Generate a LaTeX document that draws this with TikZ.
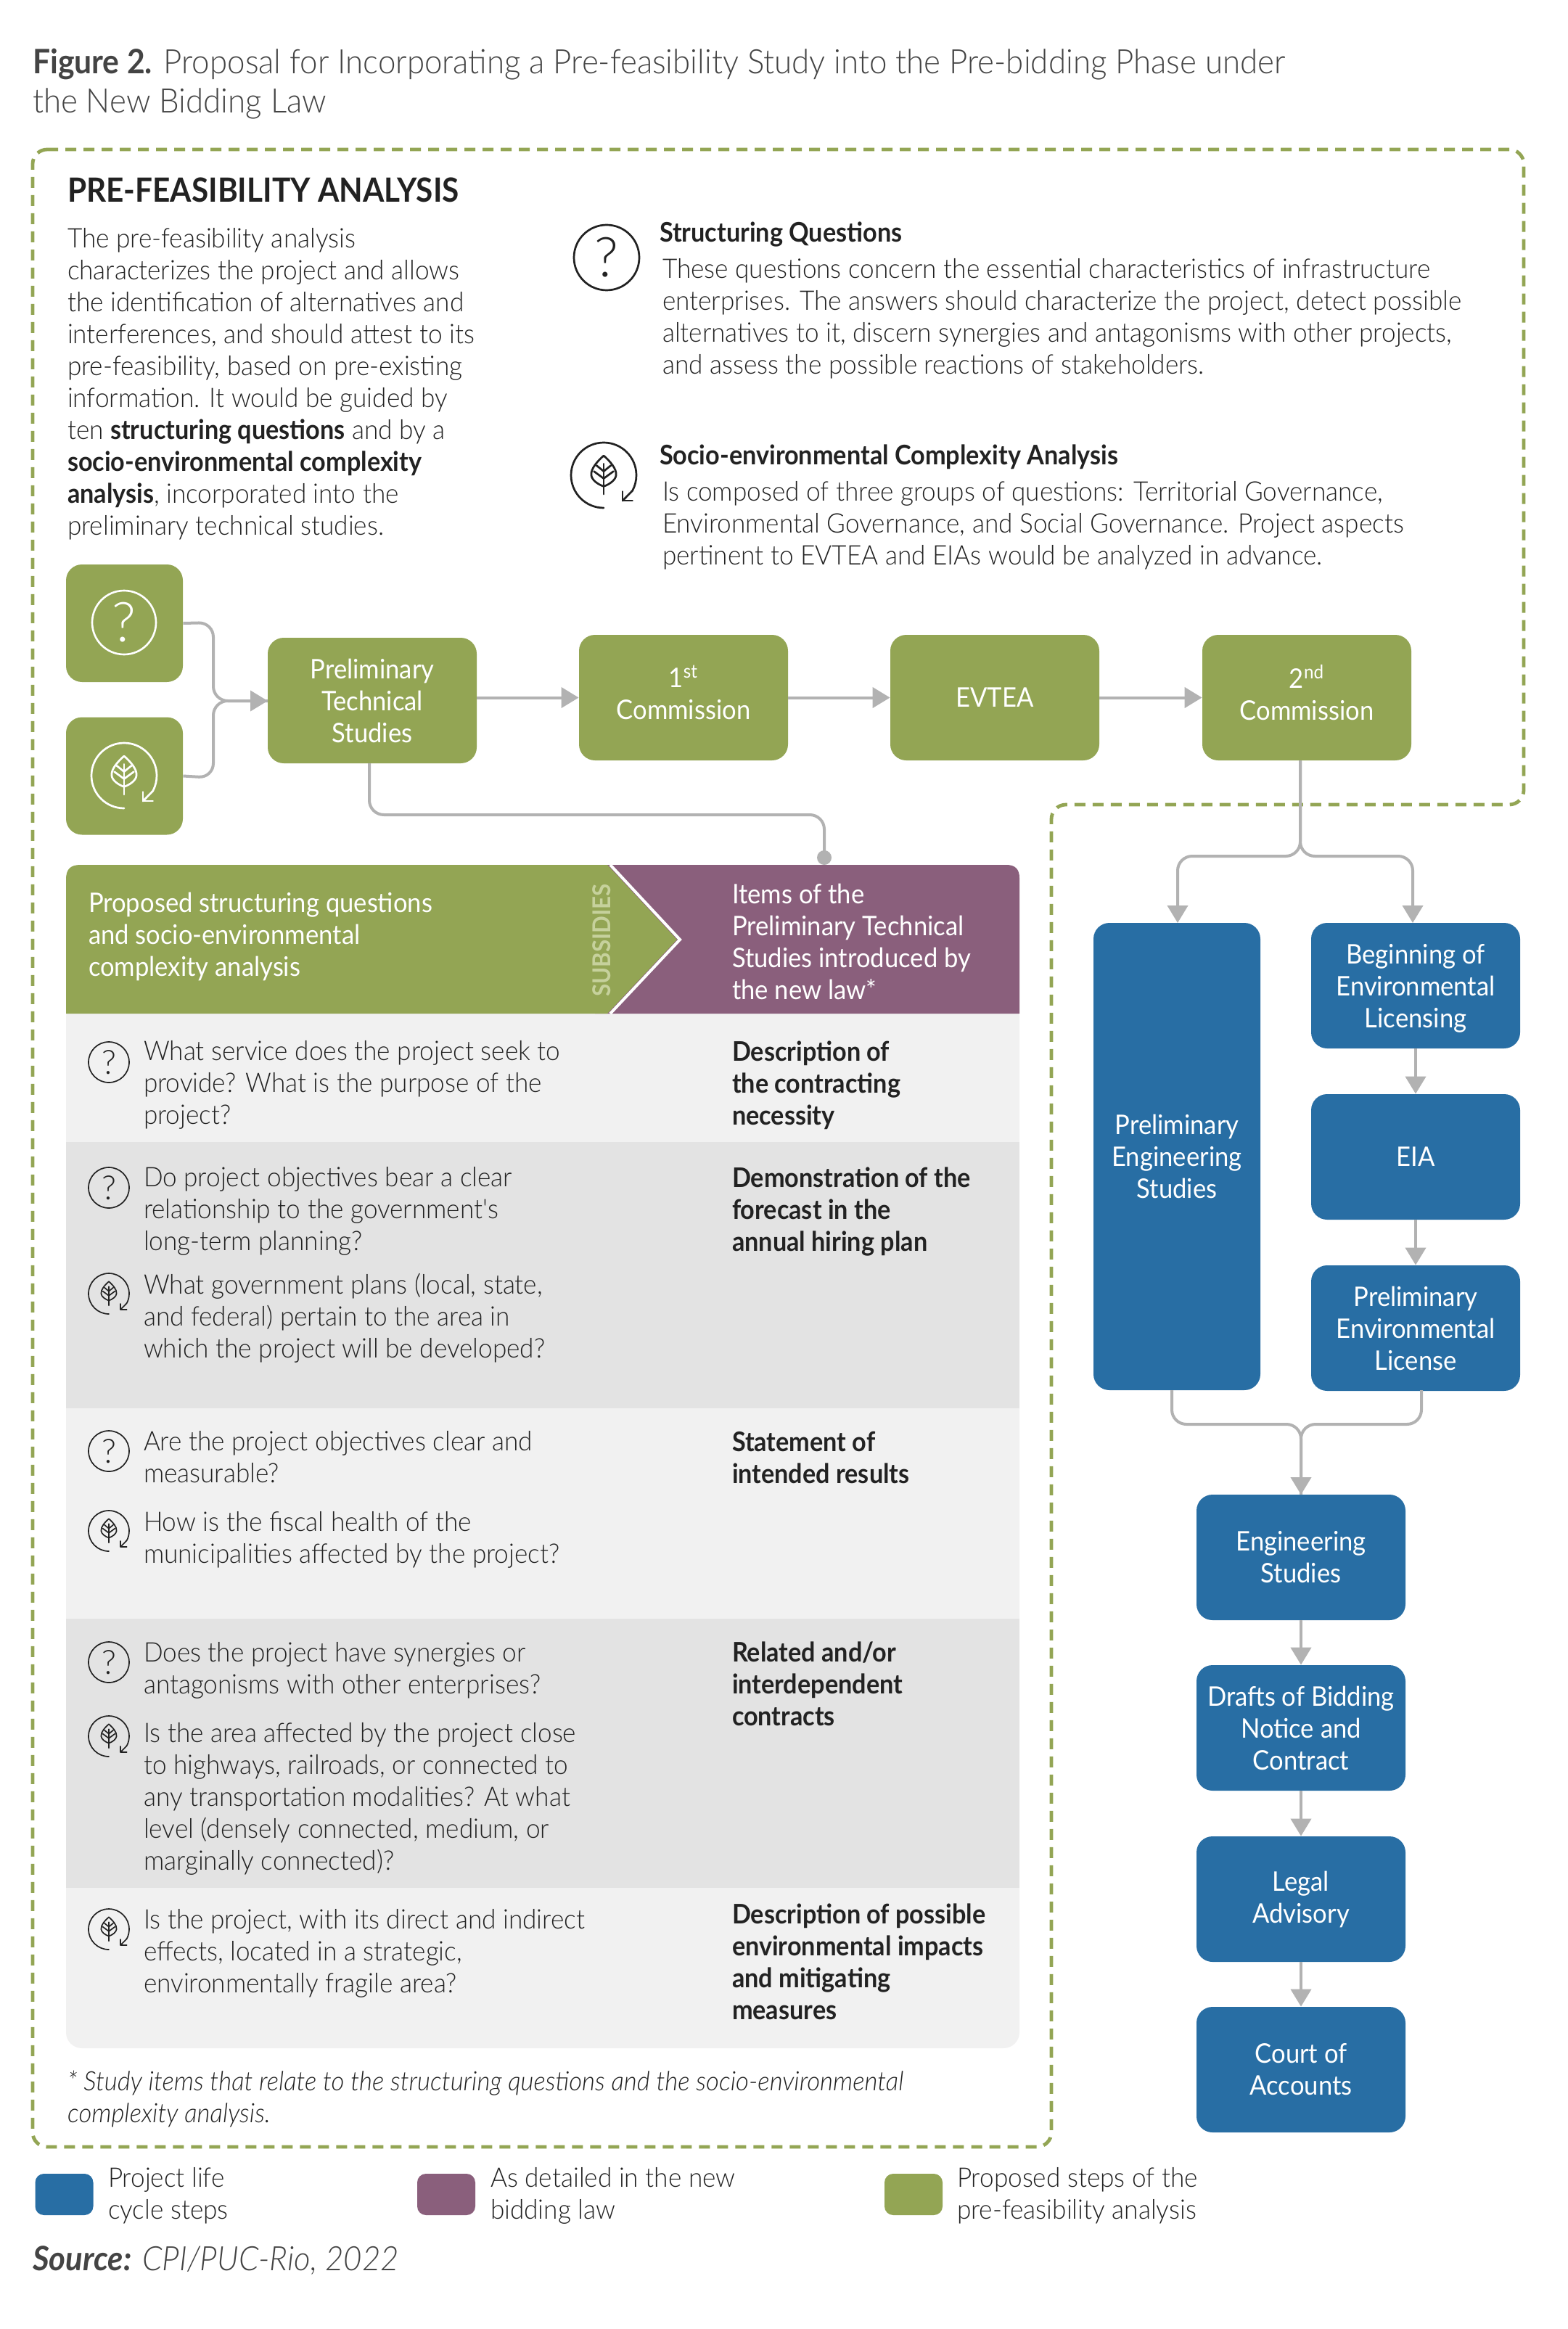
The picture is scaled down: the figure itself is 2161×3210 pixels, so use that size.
\documentclass[tikz,border=0pt]{standalone}
\usepackage{fontspec}
\setmainfont{Lato Light}[BoldFont={Lato Bold},BoldFeatures={FakeStretch=0.92},ItalicFont={Lato Light Italic},BoldItalicFont={Lato Bold Italic},FakeStretch=0.945]
\newfontfamily\qfont{Lato Light}
\newfontfamily\plainfam{Lato Light}[FakeStretch=0.945]
\newfontfamily\wfont{Lato}[FakeStretch=0.93]
\newcommand\up[1]{\rule[-#1pt]{0pt}{#1pt}}
\usetikzlibrary{arrows.meta,shapes.geometric}
\definecolor{pgreen}{HTML}{93A554}
\definecolor{ppurple}{HTML}{8A5F7C}
\definecolor{pblue}{HTML}{286EA4}
\definecolor{pgray}{HTML}{B2B2B2}
\definecolor{rowa}{HTML}{F1F1F1}
\definecolor{rowb}{HTML}{E3E3E3}
\definecolor{ink}{HTML}{222222}
\definecolor{titleink}{HTML}{444444}
\definecolor{subsid}{HTML}{C6D19C}
\newcommand\bodyfont{\fontsize{18.6}{22}\selectfont}
\newcommand\whitefont{\wfont\fontsize{18.6}{22}\selectfont}
\newcommand\qicon[6]{\node[circle,draw=#5,line width=#4*0.03pt,inner sep=0pt,minimum size=#4*1pt,text=#5,font=\qfont\fontsize{#6}{#6}\selectfont] (#1) at (#2,#3) {?};}
\newcommand\leaficon[4]{%
\begin{scope}[shift={(#1,#2)},x=#3*0.5pt,y=#3*0.5pt,draw=#4,line width=#3*0.03pt,line cap=round,line join=round]
\draw (0,-1) arc[start angle=270,end angle=-28,x radius=1,y radius=1] -- (.58,-.78);
\draw (.58,-.5) -- (.58,-.78) -- (.88,-.78);
\draw (0,.6) .. controls (.2,.42) and (.4,.2) .. (.38,0) .. controls (.36,-.15) and (.18,-.28) .. (0,-.34) .. controls (-.18,-.28) and (-.36,-.15) .. (-.38,0) .. controls (-.4,.2) and (-.2,.42) .. cycle;
\draw (0,.35) -- (0,-.58);
\draw (0,.12) -- (.22,.3) (0,.12) -- (-.22,.3) (0,-.1) -- (.3,.12) (0,-.1) -- (-.3,.12);
\end{scope}}
\tikzset{
 txt/.style={anchor=north west,inner sep=0pt,outer sep=0pt,align=left,yshift=14pt,text=ink,font=\bodyfont,execute at begin node={\rule{0pt}{14pt}}},
 flow/.style={rounded corners=11pt,inner sep=0pt,text=white,align=center,font=\whitefont,minimum width=144pt,minimum height=86.5pt},
 gbox/.style={flow,fill=pgreen},
 bbox/.style={flow,fill=pblue},
 conn/.style={draw=pgray,line width=2pt,rounded corners=10pt},
 arr/.style={conn,-{Triangle[length=12pt,width=14pt]}},
 legendbox/.style={fill=#1,rounded corners=6pt,minimum width=40pt,minimum height=28.5pt,inner sep=0pt},
}
\begin{document}
\begin{tikzpicture}[x=0.5pt,y=-0.5pt]
\useasboundingbox[fill=white] (0,0) rectangle (2161,3210);
% title
\node[txt,text=titleink,font=\fontsize{23.2}{27}\selectfont] (title) at (45,95) {\textbf{Figure 2.} Proposal for Incorporating a Pre-feasibility Study into the Pre-bidding Phase under\\the New Bidding Law};
% dashed outline
\draw[pgreen,line width=2.4pt,dash pattern=on 7.5pt off 5pt,rounded corners=10pt] (45,206) -- (2100,206) -- (2100,1109) -- (1449,1109) -- (1449,2959) -- (45,2959) -- cycle;
\node[txt,font=\fontsize{23}{27}\selectfont\bfseries] (head) at (93,273) {PRE-FEASIBILITY ANALYSIS};
\node[txt] (intro) at (93,342) {The pre-feasibility analysis\\characterizes the project and allows\\the identification of alternatives and\\interferences, and should attest to its\\pre-feasibility, based on pre-existing\\information. It would be guided by\\ten \textbf{structuring questions} and by a\\\textbf{socio-environmental complexity}\\\textbf{analysis}, incorporated into the\\preliminary technical studies.};
\qicon{qtop}{836}{355}{45}{ink}{38}
\node[txt,font=\bodyfont\bfseries] (sqh) at (909,334) {Structuring Questions};
\node[txt] (sqb) at (913,384) {These questions concern the essential characteristics of infrastructure\\enterprises. The answers should characterize the project, detect possible\\alternatives to it, discern synergies and antagonisms with other projects,\\and assess the possible reactions of stakeholders.};
\leaficon{832}{655}{45}{ink}
\node[txt,font=\bodyfont\bfseries] (seh) at (909,640) {Socio-environmental Complexity Analysis};
\node[txt] (seb) at (913,691) {Is composed of three groups of questions: Territorial Governance,\\Environmental Governance, and Social Governance. Project aspects\\pertinent to EVTEA and EIAs would be analyzed in advance.};
% flow green
\node[gbox,minimum width=80.5pt,minimum height=81pt] (qbox) at (171.5,859) {};
\node[gbox,minimum width=80.5pt,minimum height=81pt] (lbox) at (171.5,1069.5) {};
\qicon{qw}{171}{858}{44}{white}{38}
\leaficon{171}{1069}{45}{white}
\node[gbox] (pts) at (513,965.5) {Preliminary\\Technical\\Studies};
\node[gbox] (c1) at (942,961.5) {1\textsuperscript{st}\\Commission\up{7}};
\node[gbox] (evtea) at (1371,961.5) {EVTEA};
\node[gbox] (c2) at (1801,961.5) {2\textsuperscript{nd}\\Commission\up{7}};
% flow blue
\node[bbox,minimum width=115pt,minimum height=322pt] (pes) at (1622,1594) {Preliminary\\Engineering\\Studies};
\node[bbox] (bel) at (1951,1358.5) {\rule{0pt}{17pt}Beginning of\\Environmental\\Licensing};
\node[bbox] (eia) at (1951,1594.5) {EIA};
\node[bbox] (pel) at (1951,1830.5) {Preliminary\\Environmental\\License};
\node[bbox] (es) at (1793,2146.5) {Engineering\\Studies};
\node[bbox] (dr) at (1793,2381.5) {Drafts of Bidding\\Notice and\\Contract};
\node[bbox] (la) at (1793,2617.5) {Legal\\Advisory};
\node[bbox] (ca) at (1793,2852.5) {Court of\\Accounts};
% connectors
\coordinate (m1) at (294,966);
\coordinate (pin) at (369,966);
\draw[conn] (qbox.east) -- (294,858) -- (m1) -- (pin);
\draw[arr] (lbox.east) -- (294,1072) -- (m1) -- (pin);
\draw[arr] (pts.east |- c1) -- (c1);
\draw[arr] (c1) -- (evtea);
\draw[arr] (evtea) -- (c2);
\coordinate (ptsout) at (509,1052);
\coordinate (dotc) at (1136,1182);
\draw[conn] (ptsout) -- (509,1123) -- (1136,1123) -- (dotc);
\node[ellipse,fill=pgray,minimum width=10pt,minimum height=10pt,inner sep=0pt] (dot) at (dotc) {};
\coordinate (c2out) at (1792,1048);
\coordinate (pesin) at (1623,1272);
\coordinate (belin) at (1947,1272);
\draw[arr] (c2out) -- (1792,1180) -- (1623,1180) -- (pesin);
\draw[arr] (c2out) -- (1792,1180) -- (1947,1180) -- (belin);
\draw[arr] (bel) -- (eia);
\draw[arr] (eia) -- (pel);
\coordinate (pesout) at (1615,1916);
\coordinate (pelout) at (1959,1916);
\coordinate (esin) at (1793,2060);
\draw[conn] (pesout) -- (1615,1963) -- (1793,1963) -- (esin);
\draw[arr] (pelout) -- (1959,1963) -- (1793,1963) -- (esin);
\draw[arr] (es) -- (dr);
\draw[arr] (dr) -- (la);
\draw[arr] (la) -- (ca);
% table
\fill[rowa,rounded corners=11pt] (91,1380) -- (1405,1380) -- (1405,2823) -- (91,2823) -- cycle;
\fill[rowb] (91,1574) rectangle (1405,1941);
\fill[rowb] (91,2231) rectangle (1405,2602);
\begin{scope}
\fill[ppurple] (820,1192) -- (1387,1192) .. controls (1399,1192) and (1405,1198) .. (1405,1210) -- (1405,1397) -- (820,1397) -- cycle;
\fill[pgreen] (111,1192) -- (837,1192) -- (933,1295) -- (837,1397) -- (91,1397) -- (91,1212) .. controls (91,1198) and (97,1192) .. (111,1192) -- cycle;
\draw[white,line width=2pt] (841,1192) -- (937,1295) -- (841,1397);
\end{scope}
\node[txt,text=white,font=\whitefont] (hl) at (122,1258) {Proposed structuring questions\\and socio-environmental\\complexity analysis};
\node[rotate=90,text=subsid,font=\fontsize{17}{17}\selectfont\bfseries,inner sep=0pt] (subs) at (829,1296) {SUBSIDIES};
\node[txt,text=white,font=\whitefont] (hr) at (1009,1246) {Items of the\\Preliminary Technical\\Studies introduced by\\the new law*};
% rows
\qicon{q1}{150}{1464}{28}{ink}{23}
\node[txt] (t1) at (198,1462) {What service does the project seek to\\provide? What is the purpose of the\\project?};
\node[txt,font=\bodyfont\bfseries] (r1) at (1009,1463) {Description of\\the contracting\\necessity};
\qicon{q2}{150}{1637}{28}{ink}{23}
\node[txt] (t2) at (198,1636) {Do project objectives bear a clear\\relationship to the government{\plainfam 's}\\long-term planning?};
\leaficon{150}{1783}{28}{ink}
\node[txt] (t3) at (198,1783) {What government plans (local, state,\\and federal) pertain to the area in\\which the project will be developed?};
\node[txt,font=\bodyfont\bfseries] (r2) at (1009,1637) {Demonstration of the\\forecast in the\\annual hiring plan};
\qicon{q3}{150}{2000}{28}{ink}{23}
\node[txt] (t4) at (198,2000) {Are the project objectives clear and\\measurable?};
\leaficon{150}{2110}{28}{ink}
\node[txt] (t5) at (198,2111) {How is the fiscal health of the\\municipalities affected by the project?};
\node[txt,font=\bodyfont\bfseries] (r3) at (1009,2001) {Statement of\\intended results};
\qicon{q4}{150}{2291}{28}{ink}{23}
\node[txt] (t6) at (198,2291) {Does the project have synergies or\\antagonisms with other enterprises?};
\leaficon{150}{2393}{28}{ink}
\node[txt] (t7) at (198,2402) {Is the area affected by the project close\\to highways, railroads, or connected to\\any transportation modalities? At what\\level (densely connected, medium, or\\marginally connected)?};
\node[txt,font=\bodyfont\bfseries] (r4) at (1009,2291) {Related and/or\\interdependent\\contracts};
\leaficon{150}{2659}{28}{ink}
\node[txt] (t8) at (198,2659) {Is the project, with its direct and indirect\\effects, located in a strategic,\\environmentally fragile area?};
\node[txt,font=\bodyfont\bfseries] (r5) at (1009,2652) {Description of possible\\environmental impacts\\and mitigating\\measures};
% footnote
\node[txt,font=\fontsize{18.4}{22}\selectfont\itshape] (fn) at (93,2882) {* Study items that relate to the structuring questions and the socio-environmental\\complexity analysis.};
% legend
\node[legendbox=pblue] (lgb) at (88.5,3024.5) {};
\node[txt] (lgbt) at (149,3015) {Project life\\cycle steps};
\node[legendbox=ppurple] (lgp) at (615,3024.5) {};
\node[txt] (lgpt) at (676,3015) {As detailed in the new\\bidding law};
\node[legendbox=pgreen] (lgg) at (1259,3024.5) {};
\node[txt] (lggt) at (1319,3015) {Proposed steps of the\\pre-feasibility analysis};
\node[txt,text=titleink,font=\fontsize{23.2}{27}\selectfont\itshape] (src) at (45,3124) {\textbf{Source:} CPI/PUC-Rio, 2022};
\end{tikzpicture}
\end{document}
